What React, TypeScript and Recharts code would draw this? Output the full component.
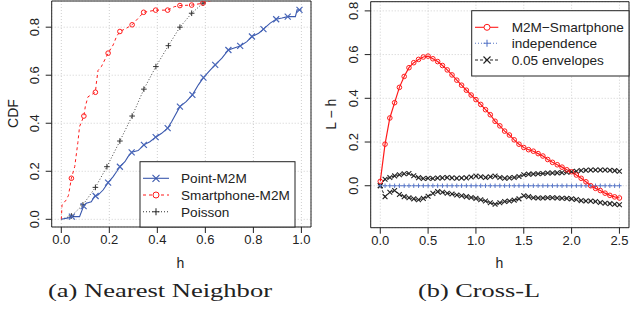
import React from "react"
import { CartesianGrid, Line, LineChart, ReferenceArea, XAxis, YAxis } from "recharts"

// (a) nearest neighbour CDFs as [h, cdf]
const pointM2MLine: [number, number][] = [
  [0, 0], [0.035, 0.007], [0.044, 0.011], [0.076, 0.011], [0.093, 0.055], [0.104, 0.067],
  [0.125, 0.073], [0.139, 0.097], [0.153, 0.101], [0.174, 0.122], [0.195, 0.153], [0.216, 0.178],
  [0.23, 0.198], [0.244, 0.219], [0.265, 0.24], [0.278, 0.261], [0.293, 0.279], [0.32, 0.286],
  [0.344, 0.31], [0.369, 0.323], [0.393, 0.342], [0.418, 0.358], [0.443, 0.38], [0.46, 0.407],
  [0.494, 0.469], [0.52, 0.49], [0.546, 0.518], [0.571, 0.56], [0.592, 0.59], [0.62, 0.621],
  [0.641, 0.643], [0.669, 0.671], [0.696, 0.705], [0.717, 0.712], [0.745, 0.722], [0.773, 0.74],
  [0.794, 0.761], [0.822, 0.775], [0.842, 0.792], [0.87, 0.817], [0.895, 0.833], [0.919, 0.838],
  [0.943, 0.844], [0.975, 0.844], [0.982, 0.872], [1.0, 0.872],
]
const pointM2MMarks: [number, number][] = [
  [0.044, 0.011], [0.093, 0.055], [0.143, 0.097], [0.195, 0.153], [0.244, 0.219], [0.293, 0.279],
  [0.344, 0.31], [0.393, 0.342], [0.443, 0.38], [0.494, 0.469], [0.546, 0.518], [0.592, 0.59],
  [0.641, 0.643], [0.696, 0.705], [0.745, 0.722], [0.794, 0.761], [0.842, 0.792], [0.895, 0.833],
  [0.943, 0.844], [0.992, 0.872],
]
const smartLine: [number, number][] = [
  [0, 0], [0.003, 0.06], [0.02, 0.08], [0.03, 0.1], [0.042, 0.171], [0.056, 0.22], [0.069, 0.32],
  [0.076, 0.386], [0.094, 0.43], [0.1, 0.47], [0.111, 0.51], [0.142, 0.529], [0.146, 0.567],
  [0.153, 0.62], [0.167, 0.636], [0.195, 0.692], [0.216, 0.726], [0.23, 0.761], [0.244, 0.782],
  [0.272, 0.796], [0.295, 0.81], [0.32, 0.837], [0.343, 0.862], [0.393, 0.871], [0.443, 0.871],
  [0.47, 0.885], [0.494, 0.89], [0.543, 0.892], [0.59, 0.9], [0.62, 0.91], [0.7, 0.93],
]
const smartMarks: [number, number][] = [
  [0.042, 0.171], [0.094, 0.43], [0.142, 0.529], [0.195, 0.692], [0.244, 0.782], [0.295, 0.81],
  [0.343, 0.862], [0.393, 0.871], [0.443, 0.871], [0.494, 0.89], [0.543, 0.892], [0.59, 0.9],
]
const poissonMarks: [number, number][] = [
  [0.042, 0.014], [0.09, 0.06], [0.142, 0.133], [0.19, 0.219], [0.244, 0.326], [0.295, 0.43],
  [0.344, 0.542], [0.394, 0.636], [0.446, 0.723], [0.494, 0.8], [0.543, 0.858], [0.59, 0.9],
]
const poissonLine: [number, number][] = [[0, 0], ...poissonMarks, [0.64, 0.935]]

const nnTicksX = [0, 0.2, 0.4, 0.6, 0.8, 1.0]
const nnTicksY = [0, 0.2, 0.4, 0.6, 0.8]

// (b) cross-L function
const crossH = [
  0, 0.05, 0.1, 0.15, 0.2, 0.25, 0.3, 0.35, 0.4, 0.45, 0.5, 0.55, 0.6, 0.65, 0.7, 0.75, 0.8,
  0.85, 0.9, 0.95, 1.0, 1.05, 1.1, 1.15, 1.2, 1.25, 1.3, 1.35, 1.4, 1.45, 1.5, 1.55, 1.6, 1.65,
  1.7, 1.75, 1.8, 1.85, 1.9, 1.95, 2.0, 2.05, 2.1, 2.15, 2.2, 2.25, 2.3, 2.35, 2.4, 2.45, 2.5,
]
const m2mSmartphone = [
  0.02, 0.19, 0.31, 0.38, 0.45, 0.5, 0.54, 0.563, 0.578, 0.589, 0.593, 0.581, 0.568, 0.55, 0.53,
  0.507, 0.483, 0.46, 0.437, 0.415, 0.394, 0.372, 0.348, 0.325, 0.295, 0.274, 0.25, 0.232, 0.21,
  0.19, 0.175, 0.165, 0.158, 0.147, 0.136, 0.12, 0.107, 0.096, 0.085, 0.073, 0.064, 0.049, 0.034,
  0.018, 0.0, -0.012, -0.022, -0.034, -0.044, -0.051, -0.056,
]
const envUpper = [
  0, 0.03, 0.038, 0.045, 0.05, 0.055, 0.056, 0.046, 0.037, 0.033, 0.034, 0.033, 0.035, 0.036,
  0.038, 0.036, 0.034, 0.035, 0.036, 0.04, 0.044, 0.041, 0.038, 0.041, 0.044, 0.038, 0.034, 0.036,
  0.038, 0.042, 0.05, 0.053, 0.054, 0.055, 0.056, 0.058, 0.058, 0.059, 0.06, 0.062, 0.064, 0.066,
  0.07, 0.071, 0.072, 0.072, 0.072, 0.072, 0.071, 0.069, 0.066,
]
const envLower = [
  0, -0.05, -0.03, -0.022, -0.04, -0.05, -0.055, -0.06, -0.064, -0.058, -0.048, -0.035, -0.027,
  -0.03, -0.034, -0.038, -0.042, -0.046, -0.05, -0.054, -0.058, -0.064, -0.07, -0.078, -0.085,
  -0.078, -0.072, -0.07, -0.066, -0.06, -0.046, -0.05, -0.055, -0.056, -0.056, -0.055, -0.055,
  -0.056, -0.057, -0.058, -0.06, -0.063, -0.068, -0.07, -0.07, -0.072, -0.077, -0.08, -0.082,
  -0.085, -0.087,
]
const crossTicksX = [0, 0.5, 1.0, 1.5, 2.0, 2.5]
const crossTicksY = [0, 0.2, 0.4, 0.6, 0.8]

const BLUE = "#3a58ad"
const RED = "#ff1a1a"
const DARK = "#222"
const SANS = "'Liberation Sans', Arial, sans-serif"
const SERIF = "'Liberation Serif', 'Times New Roman', serif"

const toPts = (arr: [number, number][]) => arr.map(([h, v]) => ({ h, v }))
const crossData = crossH.map((h, i) => ({
  h,
  l: m2mSmartphone[i],
  ind: 0,
  hi: envUpper[i],
  lo: envLower[i],
}))

const crossDot = (color: string, s: number, w = 1) => (p: any) => (
  <path
    key={p.index}
    d={`M${p.cx - s},${p.cy - s}L${p.cx + s},${p.cy + s}M${p.cx - s},${p.cy + s}L${p.cx + s},${p.cy - s}`}
    stroke={color}
    strokeWidth={w}
    fill="none"
  />
)
const plusDot = (color: string, s: number) => (p: any) => (
  <path
    key={p.index}
    d={`M${p.cx - s},${p.cy}L${p.cx + s},${p.cy}M${p.cx},${p.cy - s}L${p.cx},${p.cy + s}`}
    stroke={color}
    strokeWidth={1}
    fill="none"
  />
)
const circleDot = (color: string, r: number) => (p: any) => (
  <circle key={p.index} cx={p.cx} cy={p.cy} r={r} stroke={color} strokeWidth={1} fill="none" />
)

const yTick = (x: number) => (p: any) => (
  <text
    transform={`translate(${x},${p.y}) rotate(-90)`}
    textAnchor="middle"
    fontSize={13}
    fontFamily={SANS}
    fill={DARK}
  >
    {Number(p.payload.value).toFixed(1)}
  </text>
)

const tickStyle = { fontSize: 13, fontFamily: SANS, fill: DARK }

function NearestNeighbor() {
  return (
    <LineChart width={315} height={310} margin={{ top: 1, right: 4, bottom: 53, left: 11.7 }}>
      <CartesianGrid stroke="#cfcfcf" strokeDasharray="1 2" />
      <XAxis
        type="number"
        dataKey="h"
        domain={[-0.04, 1.04]}
        ticks={nnTicksX}
        allowDataOverflow
        height={30}
        axisLine={false}
        tickSize={6}
        tickMargin={2}
        stroke={DARK}
        tick={tickStyle}
        tickFormatter={(v) => v.toFixed(1)}
      />
      <YAxis
        type="number"
        dataKey="v"
        domain={[-0.032, 0.909]}
        ticks={nnTicksY}
        allowDataOverflow
        width={40}
        axisLine={false}
        tickSize={6}
        stroke={DARK}
        tick={yTick(39.3)}
      />
      <ReferenceArea x1={-0.04} x2={1.04} y1={-0.032} y2={0.909} fill="none" stroke={DARK} strokeWidth={1} />
      <Line data={toPts(poissonLine)} dataKey="v" stroke="#444" strokeDasharray="1 2" dot={false} isAnimationActive={false} />
      <Line data={toPts(poissonMarks)} dataKey="v" stroke="none" dot={plusDot("#333", 2.8)} isAnimationActive={false} />
      <Line data={toPts(smartLine)} dataKey="v" stroke={RED} strokeDasharray="3 3" dot={false} isAnimationActive={false} />
      <Line data={toPts(smartMarks)} dataKey="v" stroke="none" dot={circleDot(RED, 2.3)} isAnimationActive={false} />
      <Line data={toPts(pointM2MLine)} dataKey="v" stroke={BLUE} strokeWidth={1.1} dot={false} isAnimationActive={false} />
      <Line data={toPts(pointM2MMarks)} dataKey="v" stroke="none" dot={crossDot("#4866b8", 3, 1.2)} isAnimationActive={false} />
    </LineChart>
  )
}

function CrossL() {
  return (
    <LineChart
      width={316}
      height={310}
      data={crossData}
      margin={{ top: 1.7, right: 2, bottom: 52.3, left: 15.7 }}
    >
      <CartesianGrid stroke="#cfcfcf" strokeDasharray="1 2" />
      <XAxis
        type="number"
        dataKey="h"
        domain={[-0.1, 2.6]}
        ticks={crossTicksX}
        allowDataOverflow
        height={30}
        axisLine={false}
        tickSize={6}
        tickMargin={2}
        stroke={DARK}
        tick={tickStyle}
        tickFormatter={(v) => v.toFixed(1)}
      />
      <YAxis
        type="number"
        domain={[-0.192, 0.842]}
        ticks={crossTicksY}
        allowDataOverflow
        width={40}
        axisLine={false}
        tickSize={6}
        stroke={DARK}
        tick={yTick(42.7)}
      />
      <ReferenceArea x1={-0.1} x2={2.6} y1={-0.192} y2={0.842} fill="none" stroke={DARK} strokeWidth={1} />
      <Line dataKey="hi" stroke="#222" strokeDasharray="3 2" dot={crossDot("#222", 2.4, 1.1)} isAnimationActive={false} />
      <Line dataKey="lo" stroke="#222" strokeDasharray="3 2" dot={crossDot("#222", 2.4, 1.1)} isAnimationActive={false} />
      <Line dataKey="ind" stroke="#5a78c8" strokeDasharray="1 2" dot={plusDot("#5a78c8", 2.2)} isAnimationActive={false} />
      <Line dataKey="l" stroke={RED} strokeWidth={1.2} dot={circleDot(RED, 2.3)} isAnimationActive={false} />
    </LineChart>
  )
}

type Entry = { label: string; color: string; dash?: string; marker: "x" | "o" | "+" }

const nnLegend: Entry[] = [
  { label: "Point-M2M", color: BLUE, marker: "x" },
  { label: "Smartphone-M2M", color: RED, dash: "3 3", marker: "o" },
  { label: "Poisson", color: "#333", dash: "1 2", marker: "+" },
]
const crossLegend: Entry[] = [
  { label: "M2M\u2212Smartphone", color: RED, marker: "o" },
  { label: "independence", color: "#5a78c8", dash: "1 2", marker: "+" },
  { label: "0.05 envelopes", color: "#222", dash: "3 2", marker: "x" },
]

function Marker({ kind, x, y, color }: { kind: string; x: number; y: number; color: string }) {
  const s = 3.5
  if (kind === "o") return <circle cx={x} cy={y} r={3} stroke={color} fill="white" strokeWidth={1} />
  if (kind === "+")
    return <path d={`M${x - s},${y}L${x + s},${y}M${x},${y - s}L${x},${y + s}`} stroke={color} strokeWidth={1.1} />
  return (
    <path
      d={`M${x - s},${y - s}L${x + s},${y + s}M${x - s},${y + s}L${x + s},${y - s}`}
      stroke={color}
      strokeWidth={1.1}
    />
  )
}

function LegendBox({
  x, y, w, h, lineX1, lineX2, markX, textX, rows, entries,
}: {
  x: number; y: number; w: number; h: number; lineX1: number; lineX2: number; markX: number
  textX: number; rows: number[]; entries: Entry[]
}) {
  return (
    <g>
      <rect x={x} y={y} width={w} height={h} fill="white" stroke={DARK} strokeWidth={1} />
      {entries.map((e, i) => (
        <g key={e.label}>
          <line x1={lineX1} x2={lineX2} y1={rows[i]} y2={rows[i]} stroke={e.color} strokeDasharray={e.dash} strokeWidth={1.1} />
          <Marker kind={e.marker} x={markX} y={rows[i]} color={e.color} />
          <text x={textX} y={rows[i]} dy="0.36em" fontSize={13.6} fontFamily={SANS} fill={DARK}>
            {e.label}
          </text>
        </g>
      ))}
    </g>
  )
}

export default function App() {
  return (
    <div style={{ position: "absolute", left: 0, top: 0, width: 631, height: 310, background: "white" }}>
      <div style={{ position: "absolute", left: 0, top: 0 }}>
        <NearestNeighbor />
      </div>
      <div style={{ position: "absolute", left: 315, top: 0 }}>
        <CrossL />
      </div>
      <svg width={631} height={310} style={{ position: "absolute", left: 0, top: 0, pointerEvents: "none" }}>
        <LegendBox
          x={140} y={161.7} w={155} h={65.3}
          lineX1={143} lineX2={169} markX={156} textX={181}
          rows={[178.3, 195, 211.7]} entries={nnLegend}
        />
        <LegendBox
          x={471.7} y={10.7} w={157.3} h={65.3}
          lineX1={475} lineX2={498.3} markX={487} textX={511.7}
          rows={[27.3, 43.3, 60]} entries={crossLegend}
        />
        <text x={180.5} y={268} textAnchor="middle" fontSize={14} fontFamily={SANS} fill={DARK}>h</text>
        <text x={499.5} y={268} textAnchor="middle" fontSize={14} fontFamily={SANS} fill={DARK}>h</text>
        <text transform="translate(18.3,113.5) rotate(-90)" textAnchor="middle" fontSize={14} fontFamily={SANS} fill={DARK}>
          CDF
        </text>
        <text transform="translate(335.7,114.2) rotate(-90)" textAnchor="middle" fontSize={14} fontFamily={SANS} fill={DARK}>
          L {"\u2212"} h
        </text>
        <text x={160} y={296.5} textAnchor="middle" fontSize={19.5} fontFamily={SERIF} fill={DARK}
          textLength={224} lengthAdjust="spacingAndGlyphs">
          (a) Nearest Neighbor
        </text>
        <text x={479} y={296.5} textAnchor="middle" fontSize={19.5} fontFamily={SERIF} fill={DARK}
          textLength={122} lengthAdjust="spacingAndGlyphs">
          (b) Cross-L
        </text>
      </svg>
    </div>
  )
}
